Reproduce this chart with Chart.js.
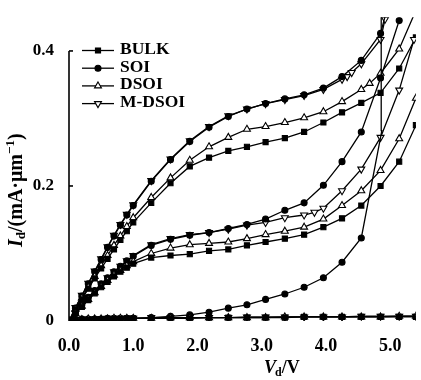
<!DOCTYPE html>
<html>
<head>
<meta charset="utf-8">
<script src="https://cdn.jsdelivr.net/npm/chart.js@4.4.0/dist/chart.umd.min.js"></script>
<style>
html,body{margin:0;padding:0;background:#fff;}
</style>
</head>
<body>
<canvas id="ivChart" width="421" height="380"></canvas>
<script>
// drain voltage grids (V)
const vdBase = [0,0.1,0.2,0.3,0.4,0.5,0.6,0.7,0.8,0.9,1.0,1.28,1.58,1.88,2.18,2.48,2.77,3.06,3.36,3.66,3.96,4.25,4.55,4.85,5.14,5.4];
const vdDsoiHigh = [0,0.1,0.2,0.3,0.4,0.5,0.6,0.7,0.8,0.9,1.0,1.28,1.58,1.88,2.18,2.48,2.77,3.06,3.36,3.66,3.96,4.25,4.55,4.68,4.85,5.14,5.4];
const vdMdsoiHigh = [0,0.1,0.2,0.3,0.4,0.5,0.6,0.7,0.8,0.9,1.0,1.28,1.58,1.88,2.18,2.48,2.77,3.06,3.36,3.66,3.96,4.25,4.33,4.4,4.55,4.85,4.92];
const vdSoiHigh = [0,0.1,0.2,0.3,0.4,0.5,0.6,0.7,0.8,0.9,1.0,1.28,1.58,1.88,2.18,2.48,2.77,3.06,3.36,3.66,3.96,4.25,4.55,4.85,5.0];
const vdMdsoiMid = [0,0.1,0.2,0.3,0.4,0.5,0.6,0.7,0.8,0.9,1.0,1.28,1.58,1.88,2.18,2.48,2.77,3.06,3.36,3.66,3.82,3.96,4.25,4.55,4.85,5.14,5.37];
const vdSoiMid = [0,0.1,0.2,0.3,0.4,0.5,0.6,0.7,0.8,0.9,1.0,1.28,1.58,1.88,2.18,2.48,2.77,3.06,3.36,3.66,3.96,4.25,4.55,4.85,5.14];
const vdSoiLow = [0,0.1,0.2,0.3,0.4,0.5,0.6,0.7,0.8,0.9,1.0,1.28,1.58,1.88,2.18,2.48,2.77,3.06,3.36,3.66,3.96,4.25,4.55,4.87,4.86];

// drain current (mA/um), high gate bias
const bulkHigh  = [0,0.016,0.032,0.048,0.063,0.078,0.092,0.106,0.12,0.133,0.146,0.175,0.204,0.229,0.242,0.252,0.258,0.265,0.271,0.28,0.294,0.309,0.323,0.338,0.374,0.42];
const soiHigh   = [0,0.019,0.037,0.055,0.073,0.091,0.109,0.126,0.142,0.157,0.171,0.207,0.239,0.266,0.287,0.303,0.314,0.322,0.329,0.335,0.345,0.362,0.386,0.426,0.48];
const dsoiHigh  = [0,0.017,0.034,0.05,0.066,0.082,0.097,0.112,0.126,0.14,0.153,0.183,0.212,0.238,0.258,0.272,0.284,0.288,0.294,0.301,0.31,0.325,0.343,0.352,0.367,0.403,0.46];
const mdsoiHigh = [0,0.02,0.038,0.056,0.074,0.092,0.11,0.127,0.143,0.158,0.172,0.208,0.24,0.267,0.288,0.304,0.314,0.322,0.328,0.334,0.343,0.358,0.362,0.368,0.381,0.417,0.447];

// middle gate bias
const bulkMid  = [0,0.011,0.021,0.031,0.041,0.05,0.058,0.066,0.073,0.079,0.085,0.094,0.097,0.099,0.104,0.106,0.112,0.117,0.122,0.128,0.139,0.152,0.171,0.2,0.236,0.29];
const soiMid   = [0,0.012,0.024,0.035,0.045,0.055,0.064,0.073,0.081,0.089,0.096,0.112,0.121,0.127,0.131,0.137,0.143,0.151,0.164,0.175,0.201,0.236,0.28,0.36,0.445];
const dsoiMid  = [0,0.011,0.022,0.032,0.042,0.051,0.06,0.068,0.075,0.082,0.088,0.1,0.108,0.113,0.115,0.117,0.122,0.128,0.133,0.139,0.151,0.171,0.193,0.223,0.27,0.33];
const mdsoiMid = [0,0.012,0.024,0.035,0.045,0.055,0.064,0.073,0.081,0.089,0.097,0.113,0.122,0.128,0.131,0.136,0.142,0.146,0.153,0.157,0.161,0.167,0.193,0.225,0.272,0.342,0.417];

// low gate bias
const bulkLow  = [0,0.001,0.002,0.002,0.003,0.003,0.003,0.003,0.003,0.004,0.004,0.004,0.004,0.004,0.005,0.005,0.005,0.005,0.005,0.006,0.006,0.006,0.006,0.006,0.006,0.006];
const soiLow   = [0,0.002,0.003,0.003,0.003,0.003,0.004,0.004,0.004,0.004,0.004,0.005,0.007,0.009,0.013,0.019,0.024,0.032,0.04,0.05,0.064,0.087,0.123,0.282,0.5];
const dsoiLow  = [0,0.001,0.002,0.003,0.003,0.003,0.003,0.004,0.004,0.004,0.004,0.004,0.005,0.005,0.005,0.005,0.005,0.005,0.006,0.006,0.006,0.006,0.006,0.006,0.007,0.007];
const mdsoiLow = [0,0.002,0.002,0.003,0.003,0.003,0.004,0.004,0.004,0.004,0.004,0.005,0.005,0.005,0.005,0.005,0.006,0.006,0.006,0.006,0.006,0.006,0.007,0.007,0.007,0.007];

const xTicks = [0,1,2,3,4,5];
const yTicks = [0,0.2,0.4];
const legendNames = ['BULK','SOI','DSOI','M-DSOI'];

const FONT = '"Liberation Serif", "Times New Roman", serif';

// marker look per device
const styles = {
    BULK:   {pointStyle:'rect', pointRadius:3.6, pointBackgroundColor:'#000', pointRotation:0},
    SOI:    {pointStyle:'circle', pointRadius:3, pointBackgroundColor:'#000', pointRotation:0},
    DSOI:   {pointStyle:'triangle', pointRadius:4, pointBackgroundColor:'#fff', pointRotation:0},
    'M-DSOI': {pointStyle:'triangle', pointRadius:4, pointBackgroundColor:'#fff', pointRotation:180}
};

function curve(name, xs, ys, radii){
    const st = styles[name];
    return Object.assign({
        label: name,
        data: xs.map((x,i) => ({x: x, y: ys[i]})),
        borderColor: '#000',
        borderWidth: 1.3,
        pointBorderColor: '#000',
        pointBorderWidth: 1.1,
        tension: 0,
        showLine: true,
        fill: false
    }, st, radii ? {pointRadius: radii} : {});
}

const soiLowRadii = vdSoiLow.map((v,i) => i >= vdSoiLow.length - 2 ? 0 : styles.SOI.pointRadius);

const datasets = [
    curve('BULK', vdBase, bulkLow),
    curve('DSOI', vdBase, dsoiLow),
    curve('M-DSOI', vdBase, mdsoiLow),
    curve('SOI', vdSoiLow, soiLow, soiLowRadii),
    curve('BULK', vdBase, bulkMid),
    curve('DSOI', vdBase, dsoiMid),
    curve('SOI', vdSoiMid, soiMid),
    curve('M-DSOI', vdMdsoiMid, mdsoiMid),
    curve('BULK', vdBase, bulkHigh),
    curve('DSOI', vdDsoiHigh, dsoiHigh),
    curve('SOI', vdSoiHigh, soiHigh),
    curve('M-DSOI', vdMdsoiHigh, mdsoiHigh)
];

// axis line, ticks, legend and axis titles
const decor = {
    id: 'decor',
    afterDraw(chart){
        const ctx = chart.ctx;
        const xs = chart.scales.x, ys = chart.scales.y;
        const x0 = xs.getPixelForValue(0);
        ctx.save();
        ctx.strokeStyle = '#000';
        ctx.lineWidth = 1.6;
        ctx.beginPath();
        ctx.moveTo(x0, ys.getPixelForValue(0));
        ctx.lineTo(x0, ys.getPixelForValue(0.4));
        ctx.stroke();
        [0.2, 0.4].forEach(v => {
            const y = ys.getPixelForValue(v);
            ctx.beginPath();
            ctx.moveTo(x0, y);
            ctx.lineTo(x0 + 4, y);
            ctx.stroke();
        });

        // legend
        ctx.textBaseline = 'middle';
        ctx.textAlign = 'left';
        legendNames.forEach((name, i) => {
            const y = 50.5 + i * 17.7;
            ctx.lineWidth = 1.3;
            ctx.beginPath();
            ctx.moveTo(82, y);
            ctx.lineTo(114, y);
            ctx.stroke();
            const st = styles[name];
            ctx.fillStyle = st.pointBackgroundColor;
            ctx.lineWidth = 1.1;
            Chart.helpers.drawPoint(ctx, {pointStyle: st.pointStyle, radius: st.pointRadius, rotation: st.pointRotation, borderWidth: 1.1}, 98, y);
            ctx.fillStyle = '#000';
            ctx.font = 'bold 17.5px ' + FONT;
            ctx.fillText(name, 120, y - 1);
        });

        // x title: Vd/V
        ctx.textBaseline = 'alphabetic';
        let tx = 264, ty = 373;
        ctx.font = 'italic bold 18px ' + FONT;
        ctx.fillText('V', tx, ty);
        tx += ctx.measureText('V').width;
        ctx.font = 'bold 12px ' + FONT;
        ctx.fillText('d', tx - 1, ty + 3);
        tx += ctx.measureText('d').width - 1;
        ctx.font = 'bold 18px ' + FONT;
        ctx.fillText('/V', tx, ty);

        // y title: Id/(mA·μm-1)
        ctx.translate(22, 247);
        ctx.rotate(-Math.PI / 2);
        let px = 0;
        ctx.font = 'italic bold 20px ' + FONT;
        ctx.fillText('I', px, 0);
        px += ctx.measureText('I').width;
        ctx.font = 'bold 13px ' + FONT;
        ctx.fillText('d', px, 3);
        px += ctx.measureText('d').width;
        ctx.font = 'bold 20px ' + FONT;
        ctx.fillText('/(mA\u00b7\u03bcm', px, 0);
        px += ctx.measureText('/(mA\u00b7\u03bcm').width;
        ctx.font = 'bold 13px ' + FONT;
        ctx.fillText('\u22121', px, -8);
        px += ctx.measureText('\u22121').width;
        ctx.font = 'bold 20px ' + FONT;
        ctx.fillText(')', px, 0);
        ctx.restore();
    }
};

new Chart(document.getElementById('ivChart'), {
    type: 'line',
    data: {datasets: datasets},
    options: {
        responsive: false,
        animation: false,
        devicePixelRatio: 1,
        layout: {padding: {top: 10, right: 1, left: 0, bottom: 0}},
        plugins: {legend: {display: false}, tooltip: {enabled: false}},
        scales: {
            x: {
                type: 'linear',
                min: 0,
                max: 5.4,
                grid: {display: false},
                border: {display: false},
                afterBuildTicks: s => { s.ticks = xTicks.map(v => ({value: v})); },
                afterFit: s => { s.height = 59; },
                ticks: {
                    color: '#000',
                    padding: 7,
                    maxRotation: 0,
                    font: {family: FONT, size: 18, weight: 'bold'},
                    callback: v => v.toFixed(1)
                }
            },
            y: {
                min: 0,
                max: 0.45,
                grid: {display: false},
                border: {display: false},
                afterBuildTicks: s => { s.ticks = yTicks.map(v => ({value: v})); },
                afterFit: s => { s.width = 69; },
                ticks: {
                    color: '#000',
                    padding: 7,
                    font: {family: FONT, size: 17, weight: 'bold'},
                    callback: v => v === 0 ? '0' : v.toFixed(1)
                }
            }
        }
    },
    plugins: [decor]
});
</script>
</body>
</html>
